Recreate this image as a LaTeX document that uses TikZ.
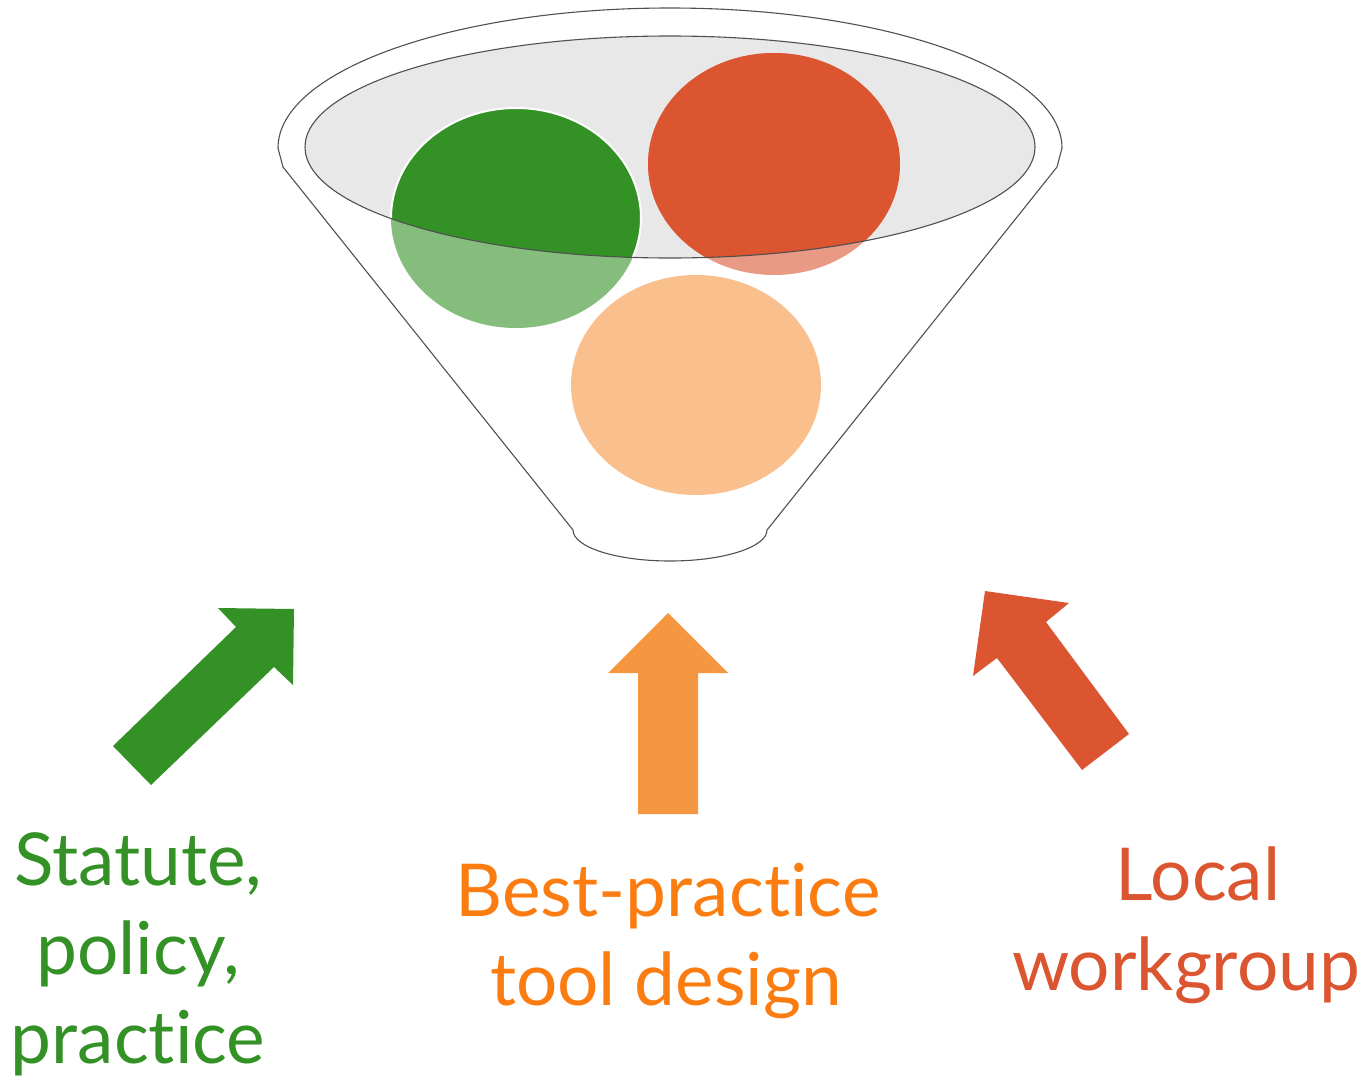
\documentclass[tikz,border=0pt]{standalone}
\usepackage{fontspec}
\newfontfamily\labfont{Lato}[Ligatures={NoCommon,NoRare}]
\definecolor{cgreen}{HTML}{339126}
\definecolor{clgreen}{HTML}{85BD7D}
\definecolor{cred}{HTML}{DB5531}
\definecolor{clred}{HTML}{E99A84}
\definecolor{corange}{HTML}{F59640}
\definecolor{clorange}{HTML}{F9BF8C}
\definecolor{ctorange}{HTML}{FB7D12}
\definecolor{cgray}{HTML}{E8E8E8}
\definecolor{cline}{HTML}{505050}
\tikzset{
  outline/.style={draw=cline, line width=1.1pt, line join=round},
  lab/.style={anchor=base, inner sep=0pt, font=\labfont\fontsize{73}{89}\selectfont},
}
\begin{document}
\begin{tikzpicture}[x=1pt,y=-1pt]
\useasboundingbox (0,0) rectangle (1363,1084);
% inner gray ellipse (fill)
\fill[cgray] (670,147) ellipse [x radius=365pt, y radius=111pt];
% circles: light full versions
\fill[clgreen] (516,218) ellipse [x radius=125pt, y radius=110pt];
\fill[clred] (774,164) ellipse [x radius=126pt, y radius=111pt];
\fill[clorange] (696,385) ellipse [x radius=125pt, y radius=110pt];
% solid parts inside the ellipse
\begin{scope}
  \clip (670,147) ellipse [x radius=365pt, y radius=111pt];
  \fill[cgreen] (516,218) ellipse [x radius=125pt, y radius=110pt];
  \fill[cred] (774,164) ellipse [x radius=126pt, y radius=111pt];
\end{scope}
\begin{scope}
  \clip (670,147) ellipse [x radius=365pt, y radius=111pt];
  \draw[white, line width=2pt] (516,218) ellipse [x radius=125pt, y radius=110pt];
\end{scope}
% inner ellipse outline
\draw[outline] (670,147) ellipse [x radius=365pt, y radius=111pt];
% funnel outer outline
\draw[outline] (278,148) arc[start angle=180, end angle=0, x radius=392pt, y radius=140pt]
  -- (1057,167) -- (767,530)
  arc[start angle=0, end angle=-180, x radius=97pt, y radius=31pt]
  -- (283,167) -- cycle;
% arrows
\fill[cgreen] (113,746) -- (236,627) -- (218,608) -- (294,609) -- (293,685) -- (274,667) -- (151,785) -- cycle;
\fill[corange] (668,613) -- (728,673) -- (698,673) -- (698,814) -- (638,814) -- (638,673) -- (608,673) -- cycle;
\fill[cred] (985,591) -- (1069,603) -- (1046,622) -- (1129,734) -- (1082,770) -- (997,658) -- (973,676) -- cycle;
% labels
\node[lab, text=cgreen] (s1) at (138,885) {Statute,};
\node[lab, text=cgreen] (s2) at (138,974) {policy,};
\node[lab, text=cgreen] (s3) at (138,1063) {practice};
\node[lab, text=ctorange] (b1) at (668,916) {Best-practice};
\node[lab, text=ctorange] (b2) at (666,1005) {tool design};
\node[lab, text=cred] (l1) at (1198,900) {Local};
\node[lab, text=cred] (l2) at (1186,990) {workgroup};
\end{tikzpicture}
\end{document}
